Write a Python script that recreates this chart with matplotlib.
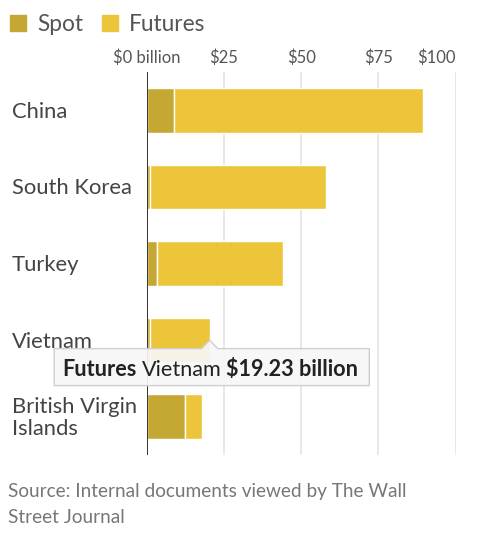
import matplotlib
matplotlib.use("Agg")
import matplotlib.pyplot as plt
from matplotlib.patches import Rectangle, Polygon
from matplotlib.transforms import blended_transform_factory

# ---- data ----
countries = ["China", "South Korea", "Turkey", "Vietnam", "British Virgin\nIslands"]
spot = [9.0, 1.2, 3.4, 1.2, 12.4]
futures = [80.5, 56.9, 40.8, 19.23, 5.4]
xticks = [0, 25, 50, 75, 100]
xticklabels = ["$0 billion", "$25", "$50", "$75", "$100"]
series_names = ["Spot", "Futures"]
colors = ["#c5a834", "#ecc53b"]
tooltip_series = "Futures"
tooltip_index = 3
source_lines = ["Source: Internal documents viewed by The Wall", "Street Journal"]

FONT = ["Lato", "DejaVu Sans"]
plt.rcParams["font.family"] = FONT

W, H = 478, 550
fig = plt.figure(figsize=(W / 100, H / 100), dpi=100)
ax = fig.add_axes([146.5 / W, 1 - 455 / H, 309.2 / W, 383 / H])
ypos = list(range(len(countries)))
ax.barh(ypos, spot, height=0.58, color=colors[0], edgecolor="white", linewidth=1, zorder=2)
ax.barh(ypos, futures, left=spot, height=0.58, color=colors[1], edgecolor="white", linewidth=1, zorder=2)
ax.set_xlim(0, 100)
ax.set_ylim(len(countries) - 0.5, -0.5)
for s in ax.spines.values():
    s.set_visible(False)
ax.set_yticks([])
ax.xaxis.tick_top()
ax.set_xticks(xticks)
ax.set_xticklabels(xticklabels, fontsize=12, color="#555555")
ax.get_xticklabels()[-1].set_horizontalalignment("right")
ax.tick_params(axis="x", length=0, pad=4)
ax.grid(axis="x", color="#e4e4e4", linewidth=1.2, zorder=0)
ax.set_axisbelow(True)
ax.axvline(0, color="#333333", linewidth=1.4, zorder=3)

# category labels
tr = blended_transform_factory(fig.transFigure, ax.transData)
for i, c in enumerate(countries):
    ax.text(12 / W, i + 0.02, c, transform=tr, ha="left", va="center", fontsize=15.8,
            color="#444444", linespacing=1.1)

# overlay in pixel coordinates
ov = fig.add_axes([0, 0, 1, 1], zorder=10)
ov.set_xlim(0, W)
ov.set_ylim(H, 0)
ov.axis("off")
ov.patch.set_visible(False)

# legend
fig.canvas.draw()
r = fig.canvas.get_renderer()
lx = 10
for name, col in zip(series_names, colors):
    ov.add_patch(Rectangle((lx, 14.5), 16.5, 16.5, color=col))
    t = ov.text(lx + 27, 31, name, fontsize=16.3, color="#555555", va="baseline", ha="left")
    bb = t.get_window_extent(r)
    lx = bb.x1 + 19

# tooltip anchored at the Vietnam futures bar end
xend = spot[tooltip_index] + futures[tooltip_index]
dx, dy = ax.transData.transform((xend, tooltip_index))
apx, apy = dx, H - dy
top = apy + 8.5
bot = top + 37
left = apx - 155.5
parts = [(tooltip_series, "bold"), (countries[tooltip_index], "normal"),
         (f"${futures[tooltip_index]:.2f} billion", "bold")]
tx = left + 8
for k, (s, w) in enumerate(parts):
    t = ov.text(tx, top + 27, s, fontsize=15.6, fontweight=w, color="#222222",
                va="baseline", ha="left", zorder=12)
    bb = t.get_window_extent(r)
    tx = bb.x1 + 5
right = tx - 5 + 11
pts = [(left, top), (apx - 8, top), (apx, apy), (apx + 8, top), (right, top),
       (right, bot), (left, bot)]
ov.add_patch(Polygon(pts, closed=True, facecolor="#f7f7f7", alpha=0.92,
                     edgecolor="none", zorder=11))
ov.add_patch(Polygon(pts, closed=True, fill=False, edgecolor="#cfcfcf", linewidth=1, zorder=11))

# source
ov.text(8, 497, source_lines[0], fontsize=13.7, color="#777777", va="baseline", ha="left")
ov.text(8, 523, source_lines[1], fontsize=13.7, color="#777777", va="baseline", ha="left")

fig.savefig("out.png", dpi=100)
